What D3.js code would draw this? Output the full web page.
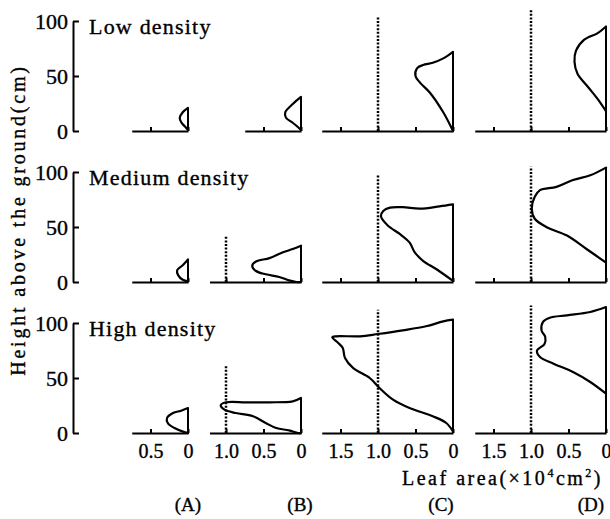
<!DOCTYPE html>
<html>
<head>
<meta charset="utf-8">
<script src="https://cdn.jsdelivr.net/npm/d3@7"></script>
<style>
  body { margin: 0; background: #fff; }
  svg { display: block; font-family: "Liberation Serif", "DejaVu Serif", serif; }
  svg text { stroke: #000; stroke-width: 0.35px; }
</style>
</head>
<body>
<div class="graph"></div>
<script>
/*---------- DATA ----------*/

const densities = ["Low density", "Medium density", "High density"];
const panelNames = ["(A)", "(B)", "(C)", "(D)"];
const heightTicks = [0, 50, 100];
const areaTicks = [0, 0.5, 1.0, 1.5];

// leaf area (x10^4 cm2) reached on each axis, per density row and panel
const axisMax = [
    [0.75, 0.75, 1.75, 1.75],
    [0.75, 1.22, 1.75, 1.75],
    [0.75, 1.22, 1.75, 1.75]
];

// height (cm) reached by the dotted 1.0 line, null = no line
const refTop = [
    [null, null, 104, 110],
    [null, 42, 97, 105],
    [null, 61, 112, 116]
];

// profiles: [leaf area, height], from the top of the canopy down
const lowA = [[0, 21], [0.07, 17], [0.11, 12], [0.09, 8], [0.04, 4], [0, 1]];
const lowB = [[0, 31], [0.11, 24.5], [0.21, 17], [0.2, 12], [0.11, 7.5], [0, 1]];
const lowC = [[0, 72], [0.13, 66], [0.27, 62], [0.4, 60], [0.48, 57], [0.5, 50], [0.44, 44],
              [0.31, 35], [0.13, 17], [0, 0]];
const lowD = [[0, 95], [0.11, 89], [0.29, 83], [0.4, 73], [0.42, 63], [0.38, 52], [0.24, 40],
              [0.11, 29], [0, 18]];

const medA = [[0, 20.5], [0.07, 15.3], [0.145, 10.7], [0.13, 6], [0.07, 2], [0, 0.5]];
const medB = [[0, 33], [0.11, 30], [0.24, 27], [0.42, 21.7], [0.6, 18.6], [0.65, 14.7], [0.6, 10],
              [0.47, 7], [0.29, 4.6], [0.16, 1.5], [0.06, 0], [0, 0]];
const medC = [[0, 70.6], [0.18, 68.8], [0.44, 66.7], [0.67, 68], [0.84, 67.6], [0.93, 64.5],
              [0.96, 59.6], [0.87, 51.4], [0.71, 43.7], [0.58, 36], [0.51, 27], [0.4, 19.3],
              [0.22, 11.6], [0, 1]];
const medD = [[0, 104], [0.21, 97], [0.44, 92.7], [0.66, 86.5], [0.88, 83.5], [0.95, 77.4],
              [0.99, 66.7], [0.95, 57.5], [0.79, 49.8], [0.52, 42.2], [0.26, 30], [0, 17.7]];

const highA = [[0, 22.7], [0.09, 20.3], [0.2, 18.2], [0.28, 13.6], [0.27, 9.1], [0.18, 4.5],
               [0.04, 0.6], [0, 0]];
const highB = [[0, 31.8], [0.11, 28.8], [0.42, 27.9], [0.73, 27.9], [1.0, 27.9], [1.07, 25.2],
               [1.02, 21.2], [0.87, 18.2], [0.64, 15.2], [0.47, 9.1], [0.33, 4.5], [0.16, 2.4],
               [0.04, 0], [0, 0]];
const highC = [[0, 103], [0.13, 101.5], [0.36, 97], [0.67, 93.3], [1.0, 90], [1.24, 87.9],
               [1.56, 87.9], [1.61, 87], [1.53, 81.8], [1.47, 77.3], [1.44, 68.2], [1.33, 59],
               [1.11, 50], [0.98, 40.9], [0.8, 30.3], [0.58, 22.7], [0.27, 15.2], [0.09, 9.1],
               [0, 1.5]];
const highD = [[0, 114.5], [0.21, 110], [0.52, 107], [0.75, 104.8], [0.84, 101], [0.86, 93.3],
               [0.81, 87.3], [0.82, 81], [0.92, 75], [0.88, 69], [0.7, 63], [0.44, 55.5],
               [0.21, 46.4], [0, 35.8]];

const profiles = [
    [lowA, lowB, lowC, lowD],
    [medA, medB, medC, medD],
    [highA, highB, highC, highD]
];

/*---------- LAYOUT ----------*/

const SIZE = {X: 610, Y: 519};
const ZERO_X = [188, 301, 453, 606];     // x of leaf area 0 in each panel
const BASE_Y = [131, 282, 433];          // y of height 0 in each row
const PX_AREA = 75;                      // px per 1.0 x10^4 cm2
const PX_CM = 1.1;                       // px per cm
const Y_AXIS_X = 73;
const LETTER_X = [188, 300, 441, 591];

const svg = d3.select(".graph").append("svg")
    .attr("width", SIZE.X)
    .attr("height", SIZE.Y);

const fmt = d => d === 0 ? "0" : d.toFixed(1);

const line = d3.line()
    .curve(d3.curveCatmullRom.alpha(0.5));

densities.forEach((name, r) => {
    const y = d3.scaleLinear()
        .domain([0, 100])
        .range([BASE_Y[r], BASE_Y[r] - 100 * PX_CM]);

    //height axis of the row
    const yAxis = svg.append("g")
        .attr("transform", `translate(${Y_AXIS_X},0)`)
        .call(d3.axisLeft(y).tickValues(heightTicks).tickSize(-6).tickSizeOuter(0).tickPadding(5));
    yAxis.select(".domain").attr("stroke-width", 2);
    yAxis.selectAll(".tick line").attr("stroke-width", 2);
    yAxis.selectAll("text")
        .attr("font-family", "Liberation Serif")
        .attr("font-size", 22)
        .attr("fill", "#000");

    svg.append("text")
        .attr("x", 89)
        .attr("y", BASE_Y[r] - 97)
        .attr("font-size", 22)
        .attr("letter-spacing", 1.2)
        .text(name);

    profiles[r].forEach((prof, c) => {
        const max = axisMax[r][c];
        const x = d3.scaleLinear()
            .domain([max, 0])
            .range([ZERO_X[c] - max * PX_AREA, ZERO_X[c]]);

        const xAxis = svg.append("g")
            .attr("transform", `translate(0,${BASE_Y[r]})`)
            .call(d3.axisBottom(x)
                .tickValues(areaTicks.filter(t => t <= max))
                .tickSize(-4)
                .tickSizeOuter(0)
                .tickPadding(11)
                .tickFormat(fmt));
        xAxis.select(".domain").attr("stroke-width", 2);
        xAxis.selectAll(".tick line").attr("stroke-width", 2);
        if (r < densities.length - 1) {
            xAxis.selectAll("text").remove();
        } else {
            xAxis.selectAll("text")
                .attr("font-family", "Liberation Serif")
                .attr("font-size", 20)
                .attr("fill", "#000");
        }

        //dotted line at 1.0
        if (refTop[r][c] !== null) {
            svg.append("line")
                .attr("x1", x(1)).attr("x2", x(1))
                .attr("y1", y(0)).attr("y2", y(refTop[r][c]))
                .attr("stroke", "black")
                .attr("stroke-width", 2.5)
                .attr("stroke-dasharray", "2,1.6");
        }

        //vertical at 0 up to the canopy top
        svg.append("line")
            .attr("x1", x(0)).attr("x2", x(0))
            .attr("y1", y(0)).attr("y2", y(prof[0][1]))
            .attr("stroke", "black")
            .attr("stroke-width", 2);

        svg.append("path")
            .datum(prof)
            .attr("fill", "none")
            .attr("stroke", "black")
            .attr("stroke-width", 2.2)
            .attr("stroke-linejoin", "round")
            .attr("stroke-linecap", "round")
            .attr("d", line.x(d => x(d[0])).y(d => y(d[1])));
    });
});

//panel letters
svg.selectAll("text.letter")
    .data(panelNames)
    .enter()
    .append("text")
        .attr("class", "letter")
        .attr("x", (d, i) => LETTER_X[i])
        .attr("y", 511)
        .attr("text-anchor", "middle")
        .attr("font-size", 19)
        .text(d => d);

//axis titles
const xTitle = svg.append("text")
    .attr("x", 402)
    .attr("y", 485)
    .attr("font-size", 20)
    .attr("letter-spacing", 2.5);
xTitle.append("tspan").text("Leaf area(×10");
xTitle.append("tspan").attr("font-size", 12).attr("dy", -8).text("4");
xTitle.append("tspan").attr("dy", 8).text("cm");
xTitle.append("tspan").attr("font-size", 12).attr("dy", -8).text("2");
xTitle.append("tspan").attr("dy", 8).text(")");

svg.append("text")
    .attr("transform", "translate(25,220) rotate(-90)")
    .attr("text-anchor", "middle")
    .attr("font-size", 20)
    .attr("letter-spacing", 2.8)
    .text("Height above the ground(cm)");
</script>
</body>
</html>
